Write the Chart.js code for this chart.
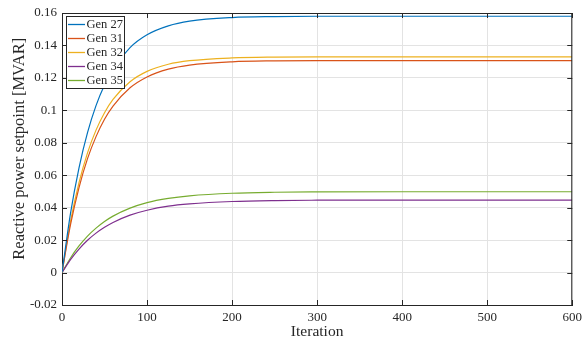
<!DOCTYPE html>
<html>
<head>
<meta charset="utf-8">
<script src="https://cdn.jsdelivr.net/npm/chart.js@4/dist/chart.umd.min.js"></script>
<style>
  html, body { margin:0; padding:0; background:#fff; }
  #wrap { width:587px; height:341px; }
</style>
</head>
<body>
<div id="wrap"><canvas id="c" width="587" height="341"></canvas></div>
<script>
// values
const iterations = [0, 10, 20, 30, 40, 50, 60, 80, 100, 125, 150, 200, 250, 300, 400, 500, 600];
const gen27 = [0, 0.0365, 0.0646, 0.0863, 0.1029, 0.1156, 0.1254, 0.1387, 0.1466, 0.1521, 0.1550, 0.1572, 0.1578, 0.1580, 0.1580, 0.1580, 0.1580];
const gen31 = [0, 0.0295, 0.0524, 0.0702, 0.0838, 0.0945, 0.1026, 0.1139, 0.1206, 0.1254, 0.1279, 0.1299, 0.1305, 0.1307, 0.1307, 0.1307, 0.1307];
const gen32 = [0, 0.0315, 0.0554, 0.0738, 0.0878, 0.0985, 0.1067, 0.1176, 0.1240, 0.1284, 0.1306, 0.1323, 0.1328, 0.1329, 0.1329, 0.1329, 0.1329];
const gen34 = [0, 0.0080, 0.0145, 0.0199, 0.0243, 0.0279, 0.0309, 0.0354, 0.0384, 0.0409, 0.0423, 0.0438, 0.0444, 0.0446, 0.0447, 0.0447, 0.0447];
const gen35 = [0, 0.0090, 0.0164, 0.0225, 0.0274, 0.0315, 0.0348, 0.0397, 0.0431, 0.0457, 0.0473, 0.0489, 0.0495, 0.0497, 0.0498, 0.0498, 0.0498];
const seriesLabels = ['Gen 27', 'Gen 31', 'Gen 32', 'Gen 34', 'Gen 35'];
const seriesColors = ['#0072BD', '#D95319', '#EDB120', '#7E2F8E', '#77AC30'];
const xTicks = [0, 100, 200, 300, 400, 500, 600];
const yTicks = [-0.02, 0, 0.02, 0.04, 0.06, 0.08, 0.1, 0.12, 0.14, 0.16];

const FONT = "'Liberation Serif', 'DejaVu Serif', serif";
const INK = '#262626';

function pts(ys){ return iterations.map((x,i)=>({x, y: ys[i]})); }

// matlab-ish box: top/right border and inward ticks
const boxPlugin = {
    id: 'box',
    afterDatasetsDraw(chart){
        const {ctx, chartArea: a, scales: {x, y}} = chart;
        ctx.save();
        ctx.strokeStyle = INK;
        ctx.lineWidth = 1;
        ctx.beginPath();
        ctx.moveTo(a.left, a.top + 0.5); ctx.lineTo(a.right, a.top + 0.5);
        ctx.moveTo(a.right - 0.5, a.top); ctx.lineTo(a.right - 0.5, a.bottom);
        xTicks.forEach(v=>{
            const px = Math.round(x.getPixelForValue(v)) + 0.5;
            ctx.moveTo(px, a.bottom); ctx.lineTo(px, a.bottom - 5);
            ctx.moveTo(px, a.top); ctx.lineTo(px, a.top + 5);
        });
        yTicks.forEach(v=>{
            const py = Math.round(y.getPixelForValue(v)) + 0.5;
            ctx.moveTo(a.left, py); ctx.lineTo(a.left + 5, py);
            ctx.moveTo(a.right, py); ctx.lineTo(a.right - 5, py);
        });
        ctx.stroke();

        // legend box, top-left inside the axes
        const lx = a.left + 4, ly = a.top + 3, lw = 58, lh = 72;
        ctx.fillStyle = '#fff';
        ctx.fillRect(lx, ly, lw, lh);
        ctx.strokeRect(lx + 0.5, ly + 0.5, lw, lh);
        ctx.font = '12.5px ' + FONT;
        ctx.textBaseline = 'middle';
        chart.data.datasets.forEach((ds, i)=>{
            const cy = ly + 8.5 + i * 14;
            ctx.strokeStyle = ds.borderColor;
            ctx.lineWidth = 1.3;
            ctx.beginPath(); ctx.moveTo(lx + 2, cy); ctx.lineTo(lx + 19, cy); ctx.stroke();
            ctx.fillStyle = INK;
            ctx.fillText(ds.label, lx + 20.5, cy + 0.5);
        });
        ctx.restore();
    }
};

new Chart(document.getElementById('c'), {
    type: 'line',
    data: {
        datasets: seriesLabels.map((lbl, i)=>({
            label: lbl,
            data: pts([gen27, gen31, gen32, gen34, gen35][i]),
            borderColor: seriesColors[i],
            borderWidth: 1.2,
            pointRadius: 0,
            fill: false,
            cubicInterpolationMode: 'monotone'
        }))
    },
    options: {
        responsive: false,
        animation: false,
        layout: { padding: { left: 0, right: 12, top: 13, bottom: 0 } },
        plugins: { legend: { display: false }, tooltip: { enabled: false } },
        scales: {
            x: {
                type: 'linear', min: 0, max: 600,
                afterFit: s => { s.height = 36; },
                afterBuildTicks: s => { s.ticks = xTicks.map(v=>({value: v})); },
                grid: { color: '#e3e3e3', drawTicks: false },
                border: { color: INK, width: 1 },
                ticks: { padding: 5, color: INK, font: { family: FONT, size: 13 }, maxRotation: 0 },
                title: { display: true, text: 'Iteration', color: INK, font: { family: FONT, size: 15.5 }, padding: { top: 0, bottom: 0 } }
            },
            y: {
                type: 'linear', min: -0.02, max: 0.16,
                afterFit: s => { s.width = 62; },
                afterBuildTicks: s => { s.ticks = yTicks.map(v=>({value: v})); },
                grid: { color: '#e3e3e3', drawTicks: false },
                border: { color: INK, width: 1 },
                ticks: { padding: 5, color: INK, font: { family: FONT, size: 13 }, callback: v => String(+v.toFixed(2)) },
                // leading nbsp nudges the rotated label up a bit, like the original
                title: { display: true, text: '\u00a0\u00a0\u00a0\u00a0\u00a0Reactive power setpoint [MVAR]', color: INK, font: { family: FONT, size: 16.5 }, padding: { top: 10, bottom: 0 } }
            }
        }
    },
    plugins: [boxPlugin]
});
</script>
</body>
</html>
